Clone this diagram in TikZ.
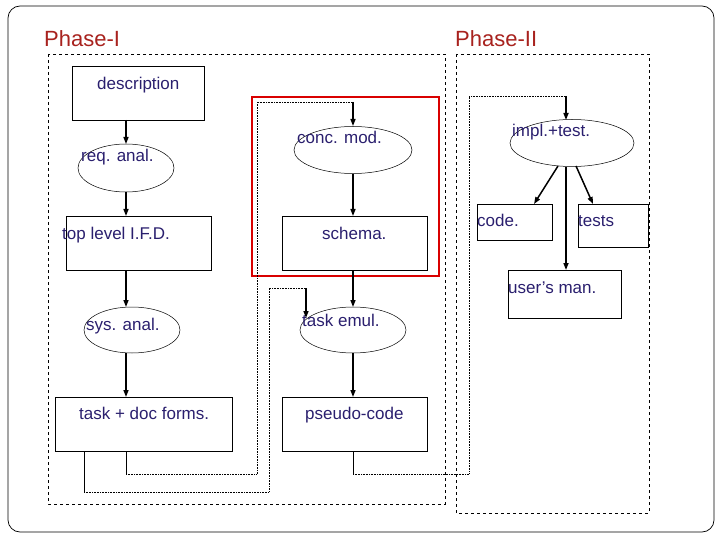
\documentclass[tikz,border=0pt]{standalone}
\usepackage{fontspec}
\setmainfont{Liberation Sans}
\usetikzlibrary{shapes.geometric,arrows.meta}
\definecolor{txt}{HTML}{2A1F6E}
\definecolor{ph}{HTML}{A8221E}
\begin{document}
\begin{tikzpicture}[x=1pt,y=-1pt,
  el/.style={draw,ellipse,line width=0.5pt},
  lbl/.style={text=txt,font=\fontsize{17}{19}\selectfont,inner sep=0pt,anchor=base west},
  arr/.style={line width=1.5pt,-{Triangle[length=7pt,width=5pt]}},
  dot/.style={densely dotted,line width=0.6pt},
  sol/.style={line width=0.8pt},
  dsh/.style={dashed,line width=0.6pt}]
\useasboundingbox (0,0) rectangle (720,540);
\draw[line width=0.7pt,rounded corners=12pt] (8,6) rectangle (714,532);
\node[text=ph,font=\fontsize{22}{24}\selectfont,anchor=base west,inner sep=0pt] (p1) at (44,47) {Phase-I};
\node[text=ph,font=\fontsize{22}{24}\selectfont,anchor=base west,inner sep=0pt] (p2) at (455,47) {Phase-II};
\draw[dsh] (48,54) rectangle (445,504);
\draw[dsh] (456,54) rectangle (649,513);
\draw[red!85!black,line width=2.5pt] (252,97) rectangle (439,276);
% nodes
\draw[sol] (72,66) rectangle (204,120); \node[lbl] (description) at (97,90) {description};
\node[el,minimum width=96pt,minimum height=48pt] (req) at (126,168) {};
\node[lbl] (reqt) at (81,162) {req. anal.};
\draw[sol] (66,216) rectangle (211,270); \node[lbl] (tl) at (62,240) {top level I.F.D.};
\node[el,minimum width=118pt,minimum height=47pt] (conc) at (353,150) {};
\node[lbl] (conct) at (297,144) {conc. mod.};
\draw[sol] (282,216) rectangle (427,270); \node[lbl] (schema) at (322,240) {schema.};
\node[el,minimum width=96pt,minimum height=46pt] (sys) at (132,330) {};
\node[lbl] (syst) at (86,330) {sys. anal.};
\draw[sol] (55,397) rectangle (232,451); \node[lbl] (task) at (79,419) {task + doc forms.};
\node[el,minimum width=106pt,minimum height=46pt] (emul) at (353,330) {};
\node[lbl] (emult) at (302,326) {task emul.};
\draw[sol] (282,397) rectangle (427,451); \node[lbl] (pseudo) at (305,419) {pseudo-code};
\node[el,minimum width=124pt,minimum height=47pt] (impl) at (572,143) {};
\node[lbl] (implt) at (512,137) {impl.+test.};
\draw[sol] (477,204) rectangle (552,240); \node[lbl] (code) at (477,226) {code.};
\draw[sol] (578,204) rectangle (648,247); \node[lbl] (tests) at (578,226) {tests};
\draw[sol] (508,270) rectangle (621,318); \node[lbl] (man) at (508,293) {user’s man.};
% arrows
\coordinate (d1) at (126,120); \coordinate (r1) at (126,144);
\draw[arr] (d1) -- (r1);
\coordinate (r2) at (126,192); \coordinate (t1) at (126,216);
\draw[arr] (r2) -- (t1);
\coordinate (t2) at (126,270); \coordinate (s1) at (126,307);
\draw[arr] (t2) -- (s1);
\coordinate (s2) at (126,353); \coordinate (k1) at (126,397);
\draw[arr] (s2) -- (k1);
\coordinate (c0) at (353,102); \coordinate (c1) at (353,126);
\draw[arr] (c0) -- (c1);
\coordinate (c2) at (353,174); \coordinate (sc1) at (353,216);
\draw[arr] (c2) -- (sc1);
\coordinate (sc2) at (353,270); \coordinate (e1) at (353,307);
\draw[arr] (sc2) -- (e1);
\coordinate (e2) at (353,353); \coordinate (ps1) at (353,397);
\draw[arr] (e2) -- (ps1);
\coordinate (e0) at (306,288); \coordinate (e3) at (306,318);
\draw[arr] (e0) -- (e3);
\coordinate (i0) at (566,96); \coordinate (i1) at (566,120);
\draw[arr] (i0) -- (i1);
\coordinate (i2) at (566,167); \coordinate (m1) at (566,270);
\draw[arr] (i2) -- (m1);
\coordinate (i3) at (558,166); \coordinate (co1) at (534,204);
\draw[arr] (i3) -- (co1);
\coordinate (i4) at (576,166); \coordinate (te1) at (593,204);
\draw[arr] (i4) -- (te1);
% feedback lines
\coordinate (k2) at (126,451); \coordinate (k3) at (84,451);
\draw[sol] (k2) -- (126,474); \draw[dot] (126,474) -- (257,474) -- (257,102) -- (c0);
\draw[sol] (k3) -- (84,492); \draw[dot] (84,492) -- (269,492) -- (269,288) -- (e0);
\coordinate (ps2) at (353,451);
\draw[sol] (ps2) -- (353,474); \draw[dot] (353,474) -- (469,474) -- (469,96) -- (i0);
\end{tikzpicture}
\end{document}
